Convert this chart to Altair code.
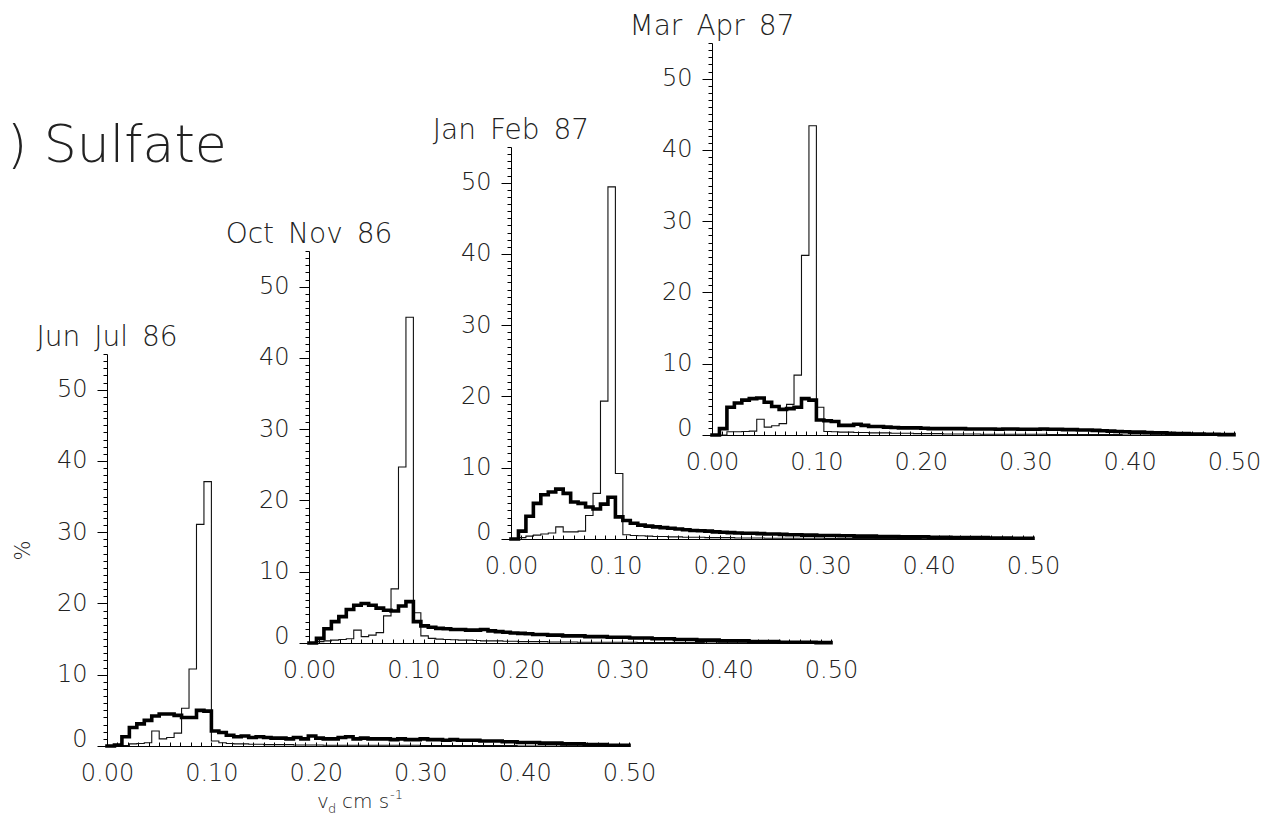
import altair as alt
import pandas as pd

# ---------------- data ----------------
panel_titles = ["Jun\u2002Jul\u200286", "Oct\u2002Nov\u200286", "Jan\u2002Feb\u200287", "Mar\u2002Apr\u200287"]

# 70 bins of width 1/140 cm/s covering 0 .. 0.5
bin_left = [i / 140 for i in range(70)]

thick_jun_jul = [0.0, 0.15, 1.3, 2.6, 3.1, 3.6, 4.2, 4.5, 4.5, 4.3, 4.0, 4.0, 5.0, 4.9,
                 2.1, 1.9, 1.5, 1.3, 1.4, 1.2, 1.3, 1.2, 1.1, 1.1, 1.0, 1.2, 1.0, 1.4, 1.1, 1.0,
                 1.0, 1.2, 1.3, 1.0, 1.1, 1.0, 1.0, 1.0, 0.9, 1.0,
                 0.9, 0.9, 1.0, 0.9, 0.9, 0.8, 0.9, 0.8, 0.8, 0.8,
                 0.7, 0.7, 0.7, 0.6, 0.6, 0.5, 0.5, 0.5, 0.4, 0.4,
                 0.4, 0.3, 0.3, 0.3, 0.2, 0.2, 0.2, 0.1, 0.1, 0.1]
thin_jun_jul = [0.0, 0.0, 0.05, 0.3, 0.35, 0.45, 2.1, 1.0, 1.2, 1.8, 5.3, 10.8, 31.1, 37.1,
                0.7, 0.45, 0.35, 0.3, 0.3, 0.25, 0.25, 0.2, 0.2, 0.2, 0.2, 0.15, 0.15, 0.15, 0.15, 0.1,
                0.1, 0.1, 0.1, 0.1, 0.1, 0.1, 0.1, 0.1, 0.1, 0.1,
                0.1, 0.1, 0.05, 0.05, 0.05, 0.05, 0.05, 0.05, 0.05, 0.05,
                0.05, 0.05, 0.05, 0.05, 0.05, 0.0, 0.0, 0.0, 0.0, 0.0,
                0.0, 0.0, 0.0, 0.0, 0.0, 0.0, 0.0, 0.0, 0.0, 0.0]

thick_oct_nov = [0.0, 0.65, 2.0, 3.0, 3.7, 4.7, 5.3, 5.55, 5.3, 4.9, 4.6, 4.5, 5.2, 5.8,
                 3.0, 2.4, 2.2, 2.05, 2.0, 1.9, 1.9, 1.8, 1.8, 1.9, 1.7, 1.6, 1.5, 1.4, 1.35, 1.3,
                 1.2, 1.2, 1.1, 1.1, 1.0, 1.0, 1.0, 0.9, 0.9, 0.9,
                 0.8, 0.8, 0.8, 0.7, 0.7, 0.7, 0.6, 0.6, 0.6, 0.5,
                 0.5, 0.5, 0.4, 0.4, 0.4, 0.3, 0.3, 0.3, 0.3, 0.2,
                 0.2, 0.2, 0.2, 0.1, 0.1, 0.1, 0.1, 0.1, 0.05, 0.05]
thin_oct_nov = [0.05, 0.2, 0.3, 0.4, 0.5, 0.6, 1.8, 0.9, 1.1, 1.45, 3.8, 7.6, 24.7, 45.7,
                4.25, 1.0, 0.65, 0.55, 0.5, 0.45, 0.4, 0.4, 0.35, 0.3, 0.3, 0.3, 0.25, 0.25, 0.2, 0.2,
                0.2, 0.2, 0.15, 0.15, 0.15, 0.15, 0.1, 0.1, 0.1, 0.1,
                0.1, 0.1, 0.1, 0.1, 0.05, 0.05, 0.05, 0.05, 0.05, 0.05,
                0.05, 0.05, 0.05, 0.0, 0.0, 0.0, 0.0, 0.0, 0.0, 0.0,
                0.0, 0.0, 0.0, 0.0, 0.0, 0.0, 0.0, 0.0, 0.0, 0.0]

thick_jan_feb = [0.0, 1.1, 3.2, 5.0, 6.2, 6.6, 7.0, 6.4, 5.2, 5.0, 4.5, 4.2, 4.9, 5.85,
                 3.1, 2.6, 2.2, 1.95, 1.8, 1.7, 1.6, 1.5, 1.4, 1.3, 1.2, 1.15, 1.1, 1.0, 0.95, 0.9,
                 0.85, 0.8, 0.8, 0.75, 0.7, 0.7, 0.65, 0.6, 0.6, 0.55,
                 0.55, 0.5, 0.5, 0.5, 0.45, 0.45, 0.4, 0.4, 0.4, 0.35,
                 0.35, 0.35, 0.3, 0.3, 0.3, 0.3, 0.25, 0.25, 0.25, 0.2,
                 0.2, 0.2, 0.2, 0.2, 0.15, 0.15, 0.15, 0.1, 0.1, 0.1]
thin_jan_feb = [0.0, 0.2, 0.4, 0.55, 0.7, 0.85, 1.7, 1.0, 1.0, 1.1, 3.3, 6.4, 19.35, 49.4,
                9.2, 0.6, 0.5, 0.45, 0.4, 0.35, 0.35, 0.3, 0.3, 0.25, 0.25, 0.25, 0.2, 0.2, 0.2, 0.2,
                0.15, 0.15, 0.15, 0.15, 0.1, 0.1, 0.1, 0.1, 0.1, 0.1,
                0.1, 0.1, 0.05, 0.05, 0.05, 0.05, 0.05, 0.05, 0.05, 0.05,
                0.05, 0.05, 0.05, 0.05, 0.05, 0.0, 0.0, 0.0, 0.0, 0.0,
                0.0, 0.0, 0.0, 0.0, 0.0, 0.0, 0.0, 0.0, 0.0, 0.0]

thick_mar_apr = [0.0, 0.9, 3.9, 4.5, 4.9, 5.1, 5.2, 4.6, 4.0, 3.6, 3.7, 3.9, 5.1, 4.9,
                 2.1, 2.0, 1.9, 1.35, 1.35, 1.5, 1.35, 1.2, 1.2, 1.1, 1.05, 1.0, 1.0, 1.0, 0.95, 0.9,
                 0.9, 0.9, 0.9, 0.9, 0.85, 0.85, 0.85, 0.85, 0.8, 0.85,
                 0.85, 0.8, 0.8, 0.8, 0.85, 0.8, 0.8, 0.75, 0.75, 0.7,
                 0.7, 0.65, 0.6, 0.55, 0.5, 0.45, 0.4, 0.4, 0.35, 0.3,
                 0.3, 0.25, 0.2, 0.2, 0.15, 0.15, 0.1, 0.1, 0.05, 0.05]
thin_mar_apr = [0.0, 0.0, 0.45, 0.45, 0.5, 0.55, 2.2, 1.1, 1.3, 1.6, 4.3, 8.4, 25.2, 43.4,
                3.9, 0.5, 0.45, 0.4, 0.4, 0.35, 0.35, 0.3, 0.3, 0.3, 0.25, 0.25, 0.25, 0.2, 0.2, 0.2,
                0.2, 0.15, 0.15, 0.15, 0.15, 0.15, 0.1, 0.1, 0.1, 0.1,
                0.1, 0.1, 0.1, 0.1, 0.1, 0.05, 0.05, 0.05, 0.05, 0.05,
                0.05, 0.05, 0.05, 0.05, 0.05, 0.0, 0.0, 0.0, 0.0, 0.0,
                0.0, 0.0, 0.0, 0.0, 0.0, 0.0, 0.0, 0.0, 0.0, 0.0]

thick_series = [thick_jun_jul, thick_oct_nov, thick_jan_feb, thick_mar_apr]
thin_series = [thin_jun_jul, thin_oct_nov, thin_jan_feb, thin_mar_apr]
for s in thick_series + thin_series:
    assert len(s) == 70

x_label_values = [0.0, 0.1, 0.2, 0.3, 0.4, 0.5]
x_minor_values = [i / 100 for i in range(51)]
y_major_values = [0, 10, 20, 30, 40, 50]
y_minor_values = list(range(56))

# ---------------- layout / style ----------------
FONT = "DejaVu Sans"
FW = 200
TXT = "#222"
PW, PH = 1262, 809
X0 = [99, 301, 503, 704]     # x position of each panel's y axis
Y0 = [738, 635, 531, 427]    # y position of each panel's x axis
W, H = 522, 392


def step_frame(vals):
    return pd.DataFrame({"v": bin_left + [0.5], "pct": list(vals) + [vals[-1]]})


layers = []
for i in range(4):
    xs = alt.Scale(domain=[0, 0.5], range=[X0[i], X0[i] + W], nice=False, zero=False)
    ys = alt.Scale(domain=[0, 55], range=[Y0[i], Y0[i] - H], nice=False, zero=False)

    thin = alt.Chart(step_frame(thin_series[i])).mark_line(
        interpolate="step-after", color="#111", strokeWidth=1.1
    ).encode(
        x=alt.X("v:Q", scale=xs, axis=alt.Axis(
            orient="top", offset=-Y0[i], values=x_minor_values, tickSize=4,
            labels=False, domain=False, grid=False, title=None,
            tickColor="black", tickWidth=1)),
        y=alt.Y("pct:Q", scale=ys, axis=alt.Axis(
            orient="left", offset=-X0[i], values=y_minor_values, tickSize=4,
            labels=False, domain=False, grid=False, title=None,
            tickColor="black", tickWidth=1)),
    )

    y_axis_kw = dict(
        orient="left", offset=-X0[i], values=y_major_values, tickSize=10,
        tickColor="black", tickWidth=1, domain=True, domainColor="black",
        domainWidth=1, grid=False, labelFont=FONT, labelFontSize=24,
        labelFontWeight=FW, labelColor=TXT, labelPadding=10, labelFlush=True,
        labelFlushOffset=5, labelOverlap=False, labelBound=False,
    )
    if i == 0:
        y_axis_kw.update(title="%", titleFont=FONT, titleFontSize=21,
                         titleFontWeight=FW, titleColor=TXT, titlePadding=23)
    else:
        y_axis_kw.update(title=None)

    thick = alt.Chart(step_frame(thick_series[i])).mark_line(
        interpolate="step-after", color="black", strokeWidth=3.6,
        strokeJoin="miter", strokeCap="square"
    ).encode(
        x=alt.X("v:Q", scale=xs, axis=alt.Axis(
            orient="bottom", offset=Y0[i] - PH, values=x_label_values,
            format=".2f", ticks=False, domain=True, domainColor="black",
            domainWidth=1, grid=False, title=None, labelFont=FONT,
            labelFontSize=24, labelFontWeight=FW, labelColor=TXT,
            labelPadding=15, labelFlush=False, labelOverlap=False,
            labelBound=False)),
        y=alt.Y("pct:Q", scale=ys, axis=alt.Axis(**y_axis_kw)),
    )

    title = alt.Chart(pd.DataFrame({"t": [panel_titles[i]]})).mark_text(
        font=FONT, fontSize=28, fontWeight=FW, color=TXT, align="center",
        baseline="alphabetic", dy=-8
    ).encode(
        x=alt.XDatum(0, scale=xs, axis=None),
        y=alt.YDatum(55, scale=ys, axis=None),
        text="t:N",
    )
    layers += [thin, thick, title]

    if i == 0:
        parts = [("v", 20, -51, 62), ("d", 13, -40, 67),
                 ("cm s", 20, -26, 62), ("-1", 13, 22, 53)]
        for txt, fs, dx, dy in parts:
            layers.append(
                alt.Chart(pd.DataFrame({"t": [txt]})).mark_text(
                    font=FONT, fontSize=fs, fontWeight=FW, color=TXT,
                    align="left", baseline="alphabetic", dx=dx, dy=dy
                ).encode(
                    x=alt.XDatum(0.25, scale=xs, axis=None),
                    y=alt.YDatum(0, scale=ys, axis=None),
                    text="t:N",
                )
            )

chart = alt.layer(*layers).resolve_scale(
    x="independent", y="independent"
).properties(
    width=PW, height=PH, padding=0,
    autosize=alt.AutoSizeParams(type="none"),
    background="white",
    title=alt.TitleParams(
        ") Sulfate", anchor="start", align="left", frame="group",
        orient="top", offset=0, dx=-1, dy=206, baseline="alphabetic",
        font=FONT, fontSize=52, fontWeight=FW, color=TXT,
    ),
).configure_view(stroke=None)

chart.save("out.html", embed_options={"renderer": "svg", "actions": False})
